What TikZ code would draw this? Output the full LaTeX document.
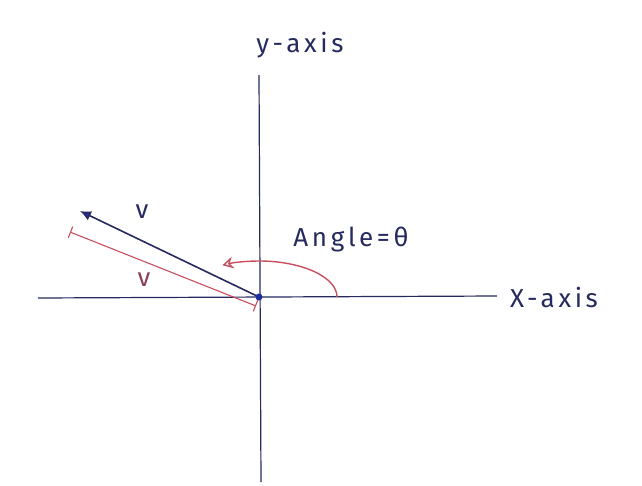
\documentclass[tikz,border=0pt]{standalone}
\usepackage{fontspec}
\setmainfont{Fira Sans}
\newfontfamily\handfont[LetterSpace=14]{Fira Sans}
\usetikzlibrary{arrows.meta}
\definecolor{ink}{HTML}{262A5E}
\definecolor{redink}{HTML}{C8505E}
\definecolor{blueink}{HTML}{1F2FA0}
\begin{document}
\begin{tikzpicture}[x=1pt,y=-1pt,
  axis/.style={draw=ink, line width=1.2pt},
  vec/.style={draw=ink, line width=1.6pt, -{Latex[length=11pt,width=10pt,fill=blueink]}},
  lbl/.style={text=ink, font=\handfont\fontsize{26}{30}\selectfont, inner sep=0pt},
  dim/.style={draw=redink, line width=1.1pt, {Bar[width=12pt]}-{Bar[width=12pt]}},
  anglearc/.style={draw=redink, line width=1.4pt, -{Stealth[length=11pt,width=12pt,open]}}]
\useasboundingbox[fill=white] (0,0) rectangle (642,485);
\coordinate (O) at (259,297);
\coordinate (xl) at (38,298);
\coordinate (xr) at (497,296);
\coordinate (yt) at (259,75);
\coordinate (yb) at (261,482);
\coordinate (T) at (80,211);
\coordinate (dA) at (70,232);
\coordinate (dB) at (256,306);
\coordinate (arcS) at (337,297);
\draw[axis] (xl) -- (xr);
\draw[axis] (yt) -- (yb);
\node[lbl, anchor=west] (xlab) at (510,298) {X-axis};
\node[lbl] (ylab) at (300,45) {y-axis};
\draw[dim] (dA) -- (dB);
\draw[vec] (O) -- (T);
\fill[blueink] (O) circle (3.5);
\node[lbl] (v1) at (142,212) {v};
\node[lbl, text=redink!60!ink] (v2) at (144,280) {v};
\draw[anglearc] (arcS) arc[start angle=0, end angle=-118, x radius=78, y radius=36];
\node[lbl] (anglelab) at (351,240) {Angle=θ};
\end{tikzpicture}
\end{document}
